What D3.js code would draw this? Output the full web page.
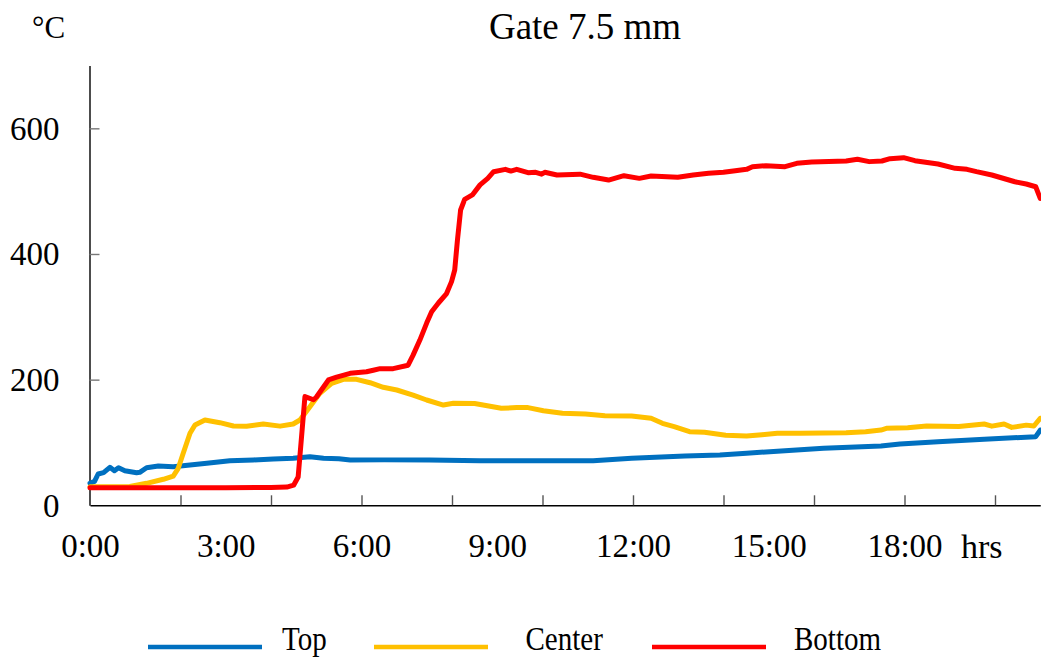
<!DOCTYPE html>
<html>
<head>
<meta charset="utf-8">
<script src="https://cdn.jsdelivr.net/npm/d3@7"></script>
<style>
body { margin: 0; background: #fff; }
text { font-family: "Liberation Serif", "Times New Roman", serif; fill: #000; }
</style>
</head>
<body>
<svg id="chart" width="1041" height="660"></svg>
<script>
// axis values
var hourTicks = [2, 4, 6, 8, 10, 12, 14, 16, 18, 20];
var hourLabels = [0, 3, 6, 9, 12, 15, 18];
var tempTicks = [0, 200, 400, 600];

// Top thermocouple (hours, deg C)
var topHours = [0, 0.1, 0.18, 0.30, 0.44, 0.54, 0.63, 0.77, 1.03, 1.10, 1.25, 1.51, 1.84, 2.21, 2.58, 3.09, 3.61, 4.05, 4.49, 4.86, 5.16, 5.5, 5.75, 6.5, 7.5, 8.62, 9.43, 11.12, 11.97, 13.15, 13.92, 14.51, 15.36, 16.21, 17.48, 17.90, 18.74, 19.76, 20.90, 21.0];
var topTemps = [35, 38, 49.8, 51.9, 60.5, 55, 59.8, 55, 51.9, 52.5, 59.8, 62.5, 61.4, 64.1, 66.8, 71, 72.1, 73.7, 74.8, 77.4, 74.8, 74, 72.1, 72.3, 72, 71, 71, 71, 74.8, 78.5, 80.1, 82.8, 86.9, 90.7, 94.4, 97.6, 101.2, 105, 109.2, 119.8];

// Center thermocouple
var centerHours = [0, 0.88, 1.25, 1.62, 1.84, 1.95, 2.06, 2.21, 2.32, 2.54, 2.87, 3.17, 3.46, 3.83, 4.20, 4.49, 4.64, 4.86, 5.08, 5.34, 5.60, 5.89, 6.19, 6.48, 6.78, 7.14, 7.44, 7.81, 8.03, 8.50, 9.09, 9.43, 9.68, 10.02, 10.44, 10.95, 11.38, 11.97, 12.40, 12.65, 12.91, 13.25, 13.58, 14.05, 14.51, 14.85, 15.19, 15.70, 16.71, 17.14, 17.48, 17.60, 18.07, 18.49, 19.2, 19.76, 19.93, 20.2, 20.37, 20.69, 20.86, 21.0];
var centerTemps = [29.6, 30, 35, 41.4, 46.6, 58.9, 82.8, 114.6, 127.8, 135.8, 131.5, 126.2, 125.7, 129.4, 126, 129.4, 135.8, 157, 178.3, 194.2, 200.5, 200.5, 195.1, 187.8, 183.5, 175.5, 167.6, 159.6, 162.3, 162, 154.4, 155.5, 155.5, 150.6, 146.4, 145.3, 142.6, 142, 138.5, 130.5, 125.1, 117.2, 116.4, 111.4, 110.3, 112.4, 114.6, 114.6, 115.4, 117.2, 119.8, 122.5, 123.5, 126.2, 125.5, 129.4, 126, 129.4, 124, 127.6, 126.2, 138.5];

// Bottom thermocouple
var bottomHours = [0, 1, 2, 3, 4, 4.35, 4.50, 4.60, 4.75, 4.94, 5.0, 5.27, 5.45, 5.75, 6.11, 6.26, 6.41, 6.70, 7.03, 7.14, 7.29, 7.44, 7.55, 7.70, 7.88, 7.99, 8.06, 8.12, 8.19, 8.28, 8.45, 8.62, 8.79, 8.92, 9.18, 9.3, 9.43, 9.68, 9.85, 9.98, 10.05, 10.32, 10.83, 11.12, 11.46, 11.80, 12.14, 12.40, 12.99, 13.33, 13.67, 14.00, 14.26, 14.51, 14.64, 14.94, 15.36, 15.62, 15.95, 16.71, 16.96, 17.22, 17.5, 17.68, 17.98, 18.23, 18.74, 19.12, 19.38, 19.59, 19.93, 20.44, 20.69, 20.90, 21.0];
var bottomTemps = [28, 28, 28, 28, 28.5, 29, 32, 45, 173, 168, 172, 199.5, 204, 210, 212.6, 215, 217.5, 217.5, 223, 239, 263, 290, 308, 322, 337, 356, 374.5, 422, 470, 487, 494, 510, 520.4, 531, 534.7, 532, 534.7, 529.4, 530, 527, 530, 525.7, 527, 522, 517.7, 524.6, 520.4, 524, 522, 525.7, 528.4, 530, 532.6, 534.7, 539, 540.5, 539, 544.3, 546.4, 548, 550.7, 547, 548, 551.7, 553.3, 548.5, 543.2, 536.3, 534.7, 531, 525.7, 515, 511.4, 507, 488.6];

var seriesNames = ["Top", "Center", "Bottom"];
var seriesColors = ["#0070C0", "#FFC000", "#FF0000"];

var toPoints = function (hours, temps) {
	return hours.map(function (h, i) { return [h, temps[i]]; });
};
var series = [
	toPoints(topHours, topTemps),
	toPoints(centerHours, centerTemps),
	toPoints(bottomHours, bottomTemps)
];

var svg = d3.select("#chart");

var x = d3.scaleLinear().domain([0, 21]).range([90, 1040.25]);
var y = d3.scaleLinear().domain([0, 700]).range([505.3, 65.5]);

// y axis, ticks pointing into the plot
var yAxis = svg.append("g")
	.attr("transform", "translate(89.5,0)")
	.call(d3.axisLeft(y).tickValues(tempTicks).tickSizeInner(-10).tickSizeOuter(0).tickPadding(30));
yAxis.select(".domain").attr("stroke", "#000").attr("stroke-width", 1.4);
yAxis.selectAll(".tick line").attr("stroke", "#777").attr("stroke-width", 1.4);
yAxis.selectAll(".tick text").style("font-size", "33px").attr("dy", "0.33em");
yAxis.selectAll(".tick").filter(function (d) { return d === 0; }).select("line").remove();

// x axis: tick marks every 2 h, labels every 3 h
var xAxis = svg.append("g")
	.attr("transform", "translate(0,505.3)")
	.call(d3.axisBottom(x).tickValues(hourTicks).tickSizeInner(-10).tickSizeOuter(0).tickFormat(""));
xAxis.select(".domain").attr("stroke", "#000").attr("stroke-width", 1.4);
xAxis.selectAll(".tick line").attr("stroke", "#555").attr("stroke-width", 1.4);

var xLabels = svg.append("g")
	.attr("transform", "translate(0,505.3)")
	.call(d3.axisBottom(x).tickValues(hourLabels).tickSize(0).tickFormat(function (d) { return d + ":00"; }));
xLabels.select(".domain").remove();
xLabels.selectAll(".tick text").style("font-size", "33px").attr("y", 51.4).attr("dy", 0);

// the lines
var line = d3.line()
	.x(function (d) { return x(d[0]); })
	.y(function (d) { return y(d[1]); });

series.forEach(function (pts, i) {
	svg.append("path")
		.datum(pts)
		.attr("d", line)
		.attr("fill", "none")
		.attr("stroke", seriesColors[i])
		.attr("stroke-width", 5)
		.attr("stroke-linejoin", "round")
		.attr("stroke-linecap", "round");
});

// titles
svg.append("text")
	.attr("x", 585).attr("y", 39.3)
	.attr("text-anchor", "middle")
	.style("font-size", "37px")
	.text("Gate 7.5 mm");
svg.append("text")
	.attr("x", 32).attr("y", 37.5)
	.style("font-size", "31px")
	.text("°C");
svg.append("text")
	.attr("x", 961).attr("y", 557.5)
	.style("font-size", "34px")
	.text("hrs");

// legend
var legendLineX = [148, 374, 652];
var legendTextX = [282, 525.5, 794];
seriesNames.forEach(function (name, i) {
	svg.append("line")
		.attr("x1", legendLineX[i]).attr("x2", legendLineX[i] + 114)
		.attr("y1", 647).attr("y2", 647)
		.attr("stroke", seriesColors[i])
		.attr("stroke-width", 4.5);
	svg.append("text")
		.attr("transform", "translate(" + legendTextX[i] + ",650) scale(1,1.13)")
		.style("font-size", "29px")
		.text(name);
});
</script>
</body>
</html>
